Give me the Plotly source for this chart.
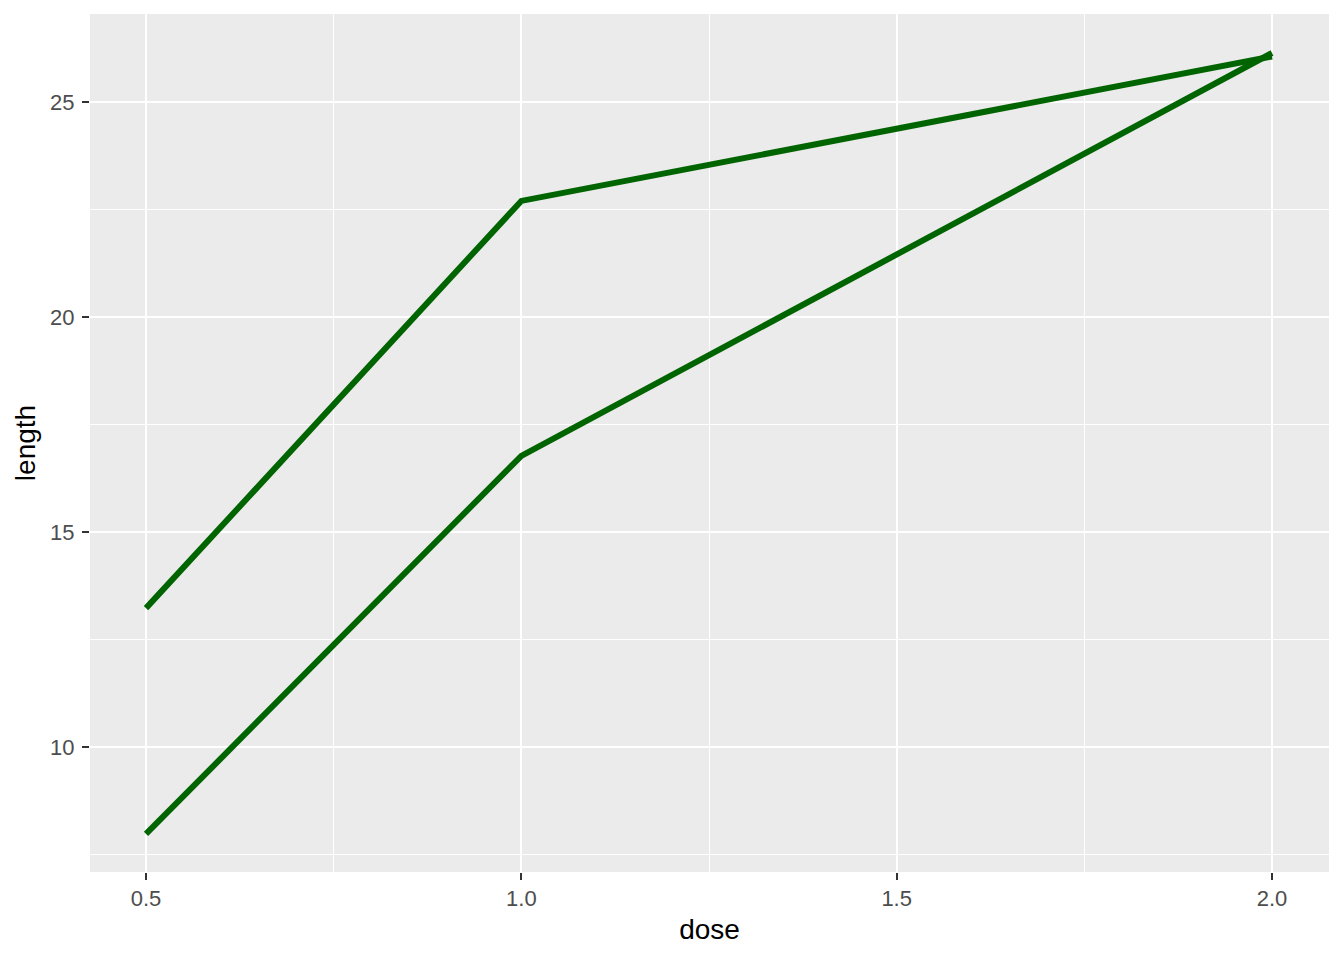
import plotly.graph_objects as go

dose = [0.5, 1.0, 2.0]
len_oj = [13.23, 22.70, 26.06]
len_vc = [7.98, 16.77, 26.14]
x_ticks = [0.5, 1.0, 1.5, 2.0]
x_tick_text = ["0.5", "1.0", "1.5", "2.0"]
y_ticks = [10, 15, 20, 25]

fig = go.Figure()
for y in (len_oj, len_vc):
    fig.add_trace(go.Scatter(x=dose, y=y, mode="lines",
                             line=dict(color="#006400", width=6),
                             showlegend=False, hoverinfo="skip"))

font = "Liberation Sans, Arial, sans-serif"
fig.update_layout(
    width=1336, height=952,
    margin=dict(l=82, r=15, t=6, b=88),
    paper_bgcolor="white", plot_bgcolor="#EBEBEB",
    font=dict(family=font),
    xaxis=dict(range=[0.4254, 2.0759], tickvals=x_ticks, ticktext=x_tick_text,
               showgrid=True, gridcolor="white", gridwidth=2,
               minor=dict(dtick=0.25, tick0=0.25, showgrid=True, gridcolor="white", gridwidth=1),
               ticks="outside", ticklen=7, tickcolor="#333333", tickwidth=2,
               tickfont=dict(size=22, color="#4D4D4D", family=font),
               title=dict(text="dose", font=dict(size=28, color="black", family=font), standoff=8),
               zeroline=False, showline=False),
    yaxis=dict(range=[7.093, 27.047], tickvals=y_ticks,
               showgrid=True, gridcolor="white", gridwidth=2,
               minor=dict(dtick=2.5, tick0=0, showgrid=True, gridcolor="white", gridwidth=1),
               ticks="outside", ticklen=7, tickcolor="#333333", tickwidth=2,
               ticklabelstandoff=3,
               tickfont=dict(size=22, color="#4D4D4D", family=font),
               title=dict(text="length", font=dict(size=28, color="black", family=font), standoff=6),
               zeroline=False, showline=False),
)
fig.write_html("out.html")
